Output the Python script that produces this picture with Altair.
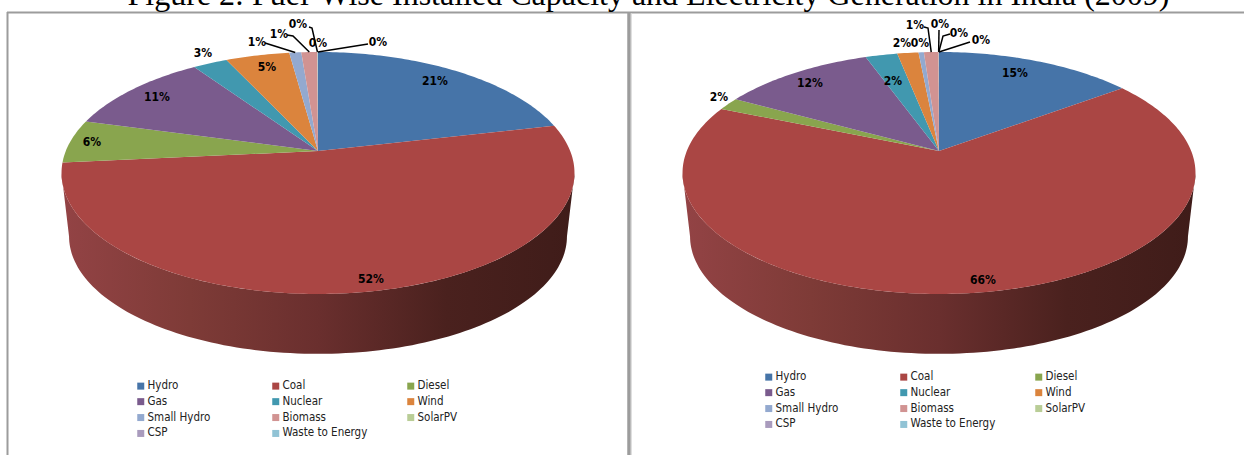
import math
import altair as alt
import pandas as pd

# Fuel categories and slice colours
fuels = ["Hydro", "Coal", "Diesel", "Gas", "Nuclear", "Wind",
         "Small Hydro", "Biomass", "SolarPV", "CSP", "Waste to Energy"]
colors = ["#4674A8", "#AA4644", "#89A54E", "#7A5B8D", "#4198AF", "#DB843D",
          "#93A9CF", "#D19392", "#B9CD96", "#A99BBD", "#91C3D5"]

# Legend entries, listed column by column so that rows read in fuel order
legend_order = ["Hydro", "Gas", "Small Hydro", "CSP",
                "Coal", "Nuclear", "Biomass", "Waste to Energy",
                "Diesel", "Wind", "SolarPV"]

# Shares in percent
capacity = [21.4, 52.1, 5.8, 11.2, 2.6, 4.8, 0.9, 1.2, 0.02, 0.01, 0.02]
generation = [14.9, 66.4, 1.7, 11.5, 2.4, 1.6, 0.4, 1.1, 0.01, 0.01, 0.01]

title_text = "Figure 2: Fuel-Wise Installed Capacity and Electricity Generation in India (2009)"

# Label centres, one per fuel, for each pie
capacity_label_pos = [(435, 80), (371, 278), (92, 141), (157, 96), (203, 52), (267, 66),
                      (257, 41), (279, 33), (298, 23), (318, 42), (378, 41)]
generation_label_pos = [(1015, 72), (983, 279), (719, 96), (810, 82), (893, 80), (902, 42),
                        (920, 42), (915, 24), (940, 23), (959, 32), (981, 39)]

# Elbows of the leader lines, by fuel
capacity_leaders = {"Small Hydro": [(265, 43)], "Biomass": [(287, 35), (293, 36)],
                    "SolarPV": [(309, 27), (312, 28)], "Waste to Energy": [(368, 44)]}
generation_leaders = {"Biomass": [(924, 27), (928, 28)], "SolarPV": [(939, 30)],
                      "CSP": [(950, 34), (943, 36)], "Waste to Energy": [(970, 42)]}

# Perspective disc: apex height, foreshortening and radii of top and bottom rims
APEX_Y, TOP_A, TOP_B, PERSP = 151.0, 117.0, 252.2, 0.1818
BOTTOM_APEX_Y, BOTTOM_A, BOTTOM_B = 215.0, 113.6, 244.8


def rim(cx, theta, apex=APEX_Y, a=TOP_A, b=TOP_B):
    c, s = math.cos(theta), math.sin(theta)
    w = 1 + PERSP * c
    return cx + b * s / w, apex - a * c / w


def slice_rows(values, cx):
    total = sum(values)
    rows, start = [], 0.0
    for fuel, v in zip(fuels, values):
        end = start + v / total * 2 * math.pi
        pts = [(cx, APEX_Y)]
        n = max(2, int((end - start) / math.radians(1)) + 2)
        pts += [rim(cx, start + (end - start) * i / (n - 1)) for i in range(n)]
        rows += [{"fuel": fuel, "seq": i, "x": x, "y": y} for i, (x, y) in enumerate(pts)]
        start = end
    return pd.DataFrame(rows)


def wall_rows(cx):
    lo, hi = math.radians(100.5), math.radians(259.5)
    n = 120
    top = [rim(cx, lo + (hi - lo) * i / n) for i in range(n + 1)]
    bottom = [rim(cx, hi - (hi - lo) * i / n, BOTTOM_APEX_Y, BOTTOM_A, BOTTOM_B) for i in range(n + 1)]
    return pd.DataFrame([{"seq": i, "x": x, "y": y} for i, (x, y) in enumerate(top + bottom)])


def label_rows(values, positions):
    return pd.DataFrame([{"x": x, "y": y, "text": f"{round(v)}%"}
                         for v, (x, y) in zip(values, positions)])


def leader_rows(values, cx, elbows):
    total = sum(values)
    rows, acc = [], 0.0
    for fuel, v in zip(fuels, values):
        mid = (acc + v / 2) / total * 2 * math.pi
        acc += v
        if fuel in elbows:
            pts = list(elbows[fuel]) + [rim(cx, mid)]
            rows += [{"fuel": fuel, "seq": i, "x": x, "y": y} for i, (x, y) in enumerate(pts)]
    return pd.DataFrame(rows)


X = alt.X("x:Q", scale=alt.Scale(domain=[0, 1244]), axis=None)
Y = alt.Y("y:Q", scale=alt.Scale(domain=[455, 0]), axis=None)

wall_fill = alt.Gradient(
    gradient="linear", x1=0, x2=1, y1=0, y2=0,
    stops=[
        alt.GradientStop(offset=0, color="#934345"),
        alt.GradientStop(offset=0.25, color="#7E3B37"),
        alt.GradientStop(offset=0.5, color="#6A2F2E"),
        alt.GradientStop(offset=0.75, color="#4A211E"),
        alt.GradientStop(offset=1, color="#3F1C19"),
    ],
)


def pie_layers(values, cx, positions, elbows, legend_x, legend_y):
    wall = alt.Chart(wall_rows(cx)).mark_line(fill=wall_fill, strokeWidth=0, interpolate="linear").encode(
        x=X, y=Y, order="seq:Q")
    slices = alt.Chart(slice_rows(values, cx)).mark_line(strokeWidth=0).encode(
        x=X, y=Y, order="seq:Q",
        fill=alt.Fill("fuel:N", sort=fuels,
                      scale=alt.Scale(domain=fuels, range=colors),
                      legend=alt.Legend(
                          title=None, orient="none", legendX=legend_x, legendY=legend_y,
                          values=legend_order,
                          columns=3, gridAlign="all", columnPadding=37, rowPadding=2.9,
                          symbolType="square", symbolSize=49, symbolStrokeWidth=0,
                          labelFont="DejaVu Sans Condensed", labelFontSize=11.5, labelColor="#222222",
                          labelLimit=200, labelOffset=1)),
    )
    leaders = alt.Chart(leader_rows(values, cx, elbows)).mark_line(
        color="#000000", strokeWidth=1.5).encode(x=X, y=Y, order="seq:Q", detail="fuel:N")
    labels = alt.Chart(label_rows(values, positions)).mark_text(
        font="DejaVu Sans Condensed", fontSize=12, fontWeight="bold", color="#000000",
        align="center", baseline="middle", dy=1).encode(x=X, y=Y, text="text:N")
    return [wall, slices, leaders, labels]


frame = pd.DataFrame([
    {"x": 7, "x2": 1244, "y": 12.5, "y2": 12.5, "w": 2, "c": "#9C9C9C"},
    {"x": 7.5, "x2": 7.5, "y": 12, "y2": 455, "w": 2, "c": "#9C9C9C"},
    {"x": 629, "x2": 629, "y": 12, "y2": 455, "w": 3.5, "c": "#9C9C9C"},
    {"x": 631.3, "x2": 631.3, "y": 13, "y2": 455, "w": 1, "c": "#D8D8D8"},
])
frame_rules = alt.Chart(frame).mark_rule().encode(
    x=X, x2="x2:Q", y=Y, y2="y2:Q",
    strokeWidth=alt.StrokeWidth("w:Q", scale=None),
    color=alt.Color("c:N", scale=None))

title_mark = alt.Chart(pd.DataFrame({"x": [648.5], "y": [4.5], "text": [title_text]})).mark_text(
    font="Liberation Serif", fontSize=32, color="#000000", align="center", baseline="alphabetic"
).encode(x=X, y=Y, text="text:N")

chart = alt.layer(
    frame_rules,
    *pie_layers(capacity, 318, capacity_label_pos, capacity_leaders, 135, 380),
    *pie_layers(generation, 939, generation_label_pos, generation_leaders, 763, 371),
    title_mark,
).resolve_scale(fill="independent").properties(
    width=1244, height=455, padding=0, background="#FFFFFF",
    autosize=alt.AutoSizeParams(type="none", contains="content"),
).configure_view(stroke=None)

chart.save("out.html", embed_options={"renderer": "svg", "actions": False})
